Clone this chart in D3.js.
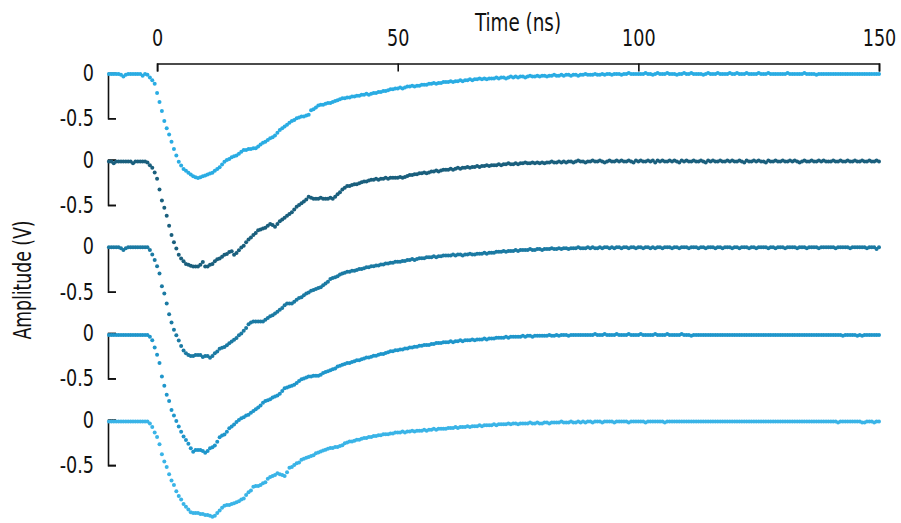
<!DOCTYPE html>
<html>
<head>
<meta charset="utf-8">
<script src="https://cdn.jsdelivr.net/npm/d3@7"></script>
<style>
  html, body { margin: 0; padding: 0; background: #ffffff; }
  svg { display: block; }
  text { font-family: "DejaVu Sans Condensed", "Liberation Sans Narrow", sans-serif; fill: #111; }
</style>
</head>
<body>
<svg id="chart" width="901" height="523"></svg>
<script>
// Sample grid: -10 ns to 150 ns every 0.5 ns (321 samples per trace)
const timeNs = d3.range(-10, 150.5, 0.5);

const xTicks = [0, 50, 100, 150];
const yTicks = [0, -0.5];

// Amplitude (V) of each trace, rows of 10 ns
const ch1 = [
  -0.01,-0.01,-0.01,-0.01,-0.01,-0.02,-0.04,-0.02,-0.01,-0.01,-0.01,-0.01,-0.01,-0.01,-0.03,-0.01,-0.02,-0.05,-0.08,-0.12,
  -0.22,-0.32,-0.42,-0.53,-0.61,-0.68,-0.76,-0.84,-0.91,-0.98,-1.02,-1.06,-1.08,-1.10,-1.12,-1.14,-1.15,-1.16,-1.15,-1.14,
  -1.13,-1.12,-1.11,-1.10,-1.08,-1.06,-1.04,-1.01,-0.98,-0.96,-0.95,-0.93,-0.92,-0.91,-0.89,-0.87,-0.85,-0.85,-0.84,-0.84,
  -0.83,-0.83,-0.81,-0.79,-0.77,-0.76,-0.74,-0.72,-0.71,-0.69,-0.66,-0.63,-0.61,-0.59,-0.57,-0.55,-0.53,-0.52,-0.50,-0.49,
  -0.48,-0.48,-0.47,-0.46,-0.41,-0.40,-0.38,-0.36,-0.35,-0.35,-0.34,-0.33,-0.33,-0.32,-0.31,-0.30,-0.29,-0.28,-0.28,-0.27,
  -0.27,-0.26,-0.26,-0.25,-0.25,-0.24,-0.24,-0.23,-0.24,-0.23,-0.22,-0.22,-0.21,-0.21,-0.20,-0.20,-0.19,-0.18,-0.18,-0.17,
  -0.17,-0.16,-0.17,-0.16,-0.15,-0.15,-0.14,-0.15,-0.14,-0.14,-0.13,-0.13,-0.13,-0.12,-0.12,-0.11,-0.12,-0.11,-0.11,-0.10,
  -0.10,-0.10,-0.09,-0.10,-0.09,-0.09,-0.08,-0.09,-0.08,-0.08,-0.07,-0.08,-0.07,-0.07,-0.06,-0.07,-0.06,-0.07,-0.06,-0.06,
  -0.06,-0.05,-0.06,-0.05,-0.05,-0.06,-0.05,-0.04,-0.05,-0.04,-0.05,-0.04,-0.04,-0.05,-0.04,-0.03,-0.04,-0.04,-0.03,-0.04,
  -0.03,-0.03,-0.04,-0.03,-0.03,-0.02,-0.03,-0.03,-0.02,-0.03,-0.02,-0.02,-0.03,-0.02,-0.02,-0.03,-0.02,-0.02,-0.01,-0.02,
  -0.02,-0.02,-0.01,-0.02,-0.02,-0.01,-0.02,-0.01,-0.01,-0.02,-0.01,-0.01,-0.01,-0.02,-0.01,-0.01,0.00,-0.01,-0.01,-0.01,
  -0.01,-0.01,-0.01,0.00,-0.01,-0.01,-0.02,-0.01,0.00,-0.01,-0.01,-0.01,0.00,-0.01,-0.01,-0.01,-0.02,-0.01,-0.01,0.00,
  -0.01,-0.01,0.00,-0.01,-0.01,-0.01,-0.01,-0.02,-0.01,0.00,-0.01,-0.01,-0.01,0.00,-0.01,-0.01,-0.01,-0.01,0.00,-0.01,
  -0.01,0.00,-0.01,-0.01,-0.01,0.00,-0.01,-0.01,-0.01,-0.01,0.00,-0.01,-0.01,-0.01,0.00,-0.01,-0.01,-0.01,-0.01,-0.01,
  -0.01,-0.01,0.00,-0.01,-0.01,-0.01,-0.01,-0.01,-0.01,0.00,-0.01,-0.01,-0.01,-0.01,-0.02,-0.01,-0.01,-0.01,-0.01,-0.01,
  -0.01,-0.01,-0.01,-0.01,-0.01,-0.01,-0.01,-0.01,-0.01,-0.01,-0.01,-0.01,-0.01,-0.01,-0.01,-0.01,-0.01,-0.01,-0.01,-0.01,
  -0.01
];

const ch2 = [
  -0.02,-0.02,-0.04,-0.02,-0.02,-0.02,-0.02,-0.02,-0.02,-0.02,-0.04,-0.02,-0.02,-0.02,-0.02,-0.02,-0.03,-0.06,-0.09,-0.14,
  -0.21,-0.33,-0.45,-0.53,-0.62,-0.73,-0.83,-0.91,-0.98,-1.05,-1.09,-1.12,-1.15,-1.16,-1.17,-1.18,-1.18,-1.18,-1.16,-1.13,
  -1.18,-1.18,-1.16,-1.15,-1.12,-1.10,-1.09,-1.07,-1.05,-1.04,-1.02,-1.01,-1.05,-1.03,-1.00,-0.97,-0.95,-0.91,-0.88,-0.86,
  -0.83,-0.81,-0.78,-0.77,-0.76,-0.75,-0.73,-0.71,-0.72,-0.74,-0.71,-0.68,-0.66,-0.64,-0.62,-0.60,-0.58,-0.55,-0.52,-0.50,
  -0.48,-0.46,-0.44,-0.41,-0.42,-0.43,-0.43,-0.43,-0.42,-0.43,-0.43,-0.43,-0.42,-0.43,-0.41,-0.38,-0.36,-0.33,-0.31,-0.29,
  -0.29,-0.28,-0.27,-0.27,-0.26,-0.25,-0.24,-0.24,-0.23,-0.22,-0.22,-0.21,-0.22,-0.21,-0.21,-0.20,-0.21,-0.20,-0.20,-0.20,
  -0.20,-0.19,-0.20,-0.19,-0.18,-0.17,-0.17,-0.16,-0.16,-0.15,-0.15,-0.14,-0.15,-0.14,-0.13,-0.13,-0.12,-0.13,-0.12,-0.11,
  -0.11,-0.11,-0.10,-0.11,-0.10,-0.09,-0.10,-0.09,-0.09,-0.08,-0.09,-0.08,-0.08,-0.07,-0.08,-0.07,-0.07,-0.06,-0.07,-0.06,
  -0.06,-0.06,-0.05,-0.06,-0.05,-0.05,-0.04,-0.05,-0.05,-0.04,-0.05,-0.04,-0.04,-0.03,-0.04,-0.04,-0.03,-0.04,-0.03,-0.04,
  -0.03,-0.04,-0.03,-0.03,-0.02,-0.03,-0.03,-0.02,-0.03,-0.02,-0.03,-0.02,-0.02,-0.03,-0.02,-0.01,-0.02,-0.02,-0.03,-0.02,
  -0.02,-0.01,-0.02,-0.02,-0.01,-0.02,-0.03,-0.02,-0.01,-0.02,-0.02,-0.01,-0.02,-0.01,-0.02,-0.02,-0.01,-0.02,-0.03,-0.01,
  -0.02,-0.01,-0.02,-0.02,-0.01,-0.02,-0.01,-0.03,-0.01,-0.02,-0.01,-0.02,-0.02,-0.01,-0.02,-0.01,-0.02,-0.03,-0.01,-0.02,
  -0.01,-0.02,-0.02,-0.01,-0.02,-0.02,-0.01,-0.02,-0.03,-0.01,-0.02,-0.01,-0.02,-0.02,-0.01,-0.02,-0.02,-0.01,-0.02,-0.01,
  -0.02,-0.02,-0.01,-0.02,-0.03,-0.01,-0.02,-0.02,-0.01,-0.02,-0.01,-0.02,-0.02,-0.03,-0.01,-0.02,-0.02,-0.01,-0.02,-0.02,
  -0.01,-0.02,-0.02,-0.01,-0.02,-0.01,-0.02,-0.03,-0.02,-0.01,-0.02,-0.02,-0.01,-0.02,-0.02,-0.01,-0.02,-0.01,-0.02,-0.02,
  -0.02,-0.01,-0.02,-0.02,-0.01,-0.02,-0.02,-0.01,-0.02,-0.02,-0.01,-0.02,-0.02,-0.01,-0.02,-0.02,-0.01,-0.02,-0.02,-0.01,
  -0.02
];

const ch3 = [
  -0.01,-0.01,-0.01,-0.01,-0.01,-0.02,-0.04,-0.02,-0.01,-0.01,-0.01,-0.01,-0.01,-0.01,-0.01,-0.01,-0.01,-0.04,-0.09,-0.15,
  -0.22,-0.30,-0.44,-0.52,-0.63,-0.75,-0.84,-0.92,-0.98,-1.04,-1.10,-1.15,-1.18,-1.20,-1.21,-1.21,-1.20,-1.20,-1.20,-1.22,
  -1.21,-1.21,-1.23,-1.21,-1.18,-1.16,-1.13,-1.12,-1.11,-1.09,-1.07,-1.05,-1.03,-1.01,-0.98,-0.96,-0.93,-0.90,-0.86,-0.84,
  -0.83,-0.83,-0.83,-0.83,-0.83,-0.81,-0.79,-0.77,-0.76,-0.74,-0.72,-0.70,-0.68,-0.65,-0.63,-0.63,-0.63,-0.61,-0.59,-0.57,
  -0.56,-0.54,-0.52,-0.51,-0.49,-0.48,-0.47,-0.46,-0.45,-0.43,-0.41,-0.39,-0.36,-0.35,-0.34,-0.33,-0.31,-0.30,-0.29,-0.28,
  -0.28,-0.27,-0.27,-0.26,-0.25,-0.25,-0.24,-0.23,-0.23,-0.22,-0.22,-0.21,-0.21,-0.20,-0.20,-0.19,-0.19,-0.18,-0.18,-0.17,
  -0.17,-0.17,-0.16,-0.16,-0.15,-0.15,-0.14,-0.15,-0.14,-0.13,-0.13,-0.13,-0.12,-0.12,-0.12,-0.11,-0.12,-0.11,-0.11,-0.10,
  -0.10,-0.10,-0.10,-0.09,-0.10,-0.09,-0.09,-0.10,-0.09,-0.09,-0.08,-0.09,-0.09,-0.08,-0.08,-0.08,-0.07,-0.08,-0.07,-0.07,
  -0.07,-0.06,-0.06,-0.06,-0.05,-0.06,-0.05,-0.05,-0.05,-0.04,-0.05,-0.04,-0.04,-0.04,-0.04,-0.03,-0.04,-0.04,-0.03,-0.03,
  -0.04,-0.03,-0.03,-0.03,-0.02,-0.03,-0.03,-0.02,-0.03,-0.02,-0.02,-0.03,-0.02,-0.02,-0.02,-0.01,-0.02,-0.02,-0.02,-0.01,
  -0.02,-0.01,-0.02,-0.02,-0.01,-0.02,-0.01,-0.01,-0.02,-0.01,-0.02,-0.01,-0.01,-0.02,-0.01,-0.01,-0.02,-0.01,-0.01,-0.02,
  -0.01,-0.01,-0.02,-0.01,-0.01,-0.02,-0.01,-0.02,-0.01,-0.01,-0.02,-0.01,-0.01,-0.01,-0.02,-0.01,-0.01,-0.02,-0.01,-0.01,
  -0.01,-0.02,-0.01,-0.01,-0.01,-0.02,-0.01,-0.01,-0.02,-0.01,-0.01,-0.01,-0.02,-0.01,-0.01,-0.02,-0.01,-0.01,-0.01,-0.02,
  -0.01,-0.01,-0.02,-0.01,-0.01,-0.01,-0.02,-0.01,-0.01,-0.02,-0.01,-0.01,-0.01,-0.01,-0.02,-0.01,-0.01,-0.02,-0.01,-0.01,
  -0.01,-0.02,-0.01,-0.01,-0.01,-0.01,-0.02,-0.01,-0.01,-0.01,-0.02,-0.01,-0.01,-0.01,-0.01,-0.02,-0.01,-0.01,-0.01,-0.01,
  -0.01,-0.01,-0.02,-0.01,-0.01,-0.01,-0.01,-0.01,-0.02,-0.01,-0.01,-0.01,-0.01,-0.01,-0.01,-0.02,-0.01,-0.01,-0.01,-0.03,
  -0.01
];

const ch4 = [
  -0.02,-0.02,-0.02,-0.02,-0.02,-0.02,-0.02,-0.02,-0.02,-0.02,-0.02,-0.02,-0.02,-0.02,-0.02,-0.02,-0.02,-0.04,-0.08,-0.16,
  -0.24,-0.33,-0.48,-0.58,-0.68,-0.75,-0.85,-0.91,-0.97,-1.03,-1.09,-1.14,-1.18,-1.22,-1.27,-1.31,-1.29,-1.29,-1.29,-1.30,
  -1.32,-1.30,-1.27,-1.26,-1.24,-1.20,-1.15,-1.13,-1.12,-1.09,-1.05,-1.03,-1.01,-0.98,-0.96,-0.94,-0.93,-0.91,-0.90,-0.88,
  -0.86,-0.84,-0.82,-0.80,-0.77,-0.75,-0.74,-0.73,-0.71,-0.70,-0.69,-0.67,-0.64,-0.61,-0.60,-0.59,-0.58,-0.57,-0.55,-0.53,
  -0.51,-0.50,-0.49,-0.48,-0.48,-0.47,-0.47,-0.47,-0.46,-0.44,-0.43,-0.42,-0.41,-0.40,-0.39,-0.37,-0.36,-0.35,-0.34,-0.33,
  -0.33,-0.32,-0.31,-0.30,-0.30,-0.29,-0.28,-0.27,-0.27,-0.26,-0.25,-0.25,-0.24,-0.23,-0.23,-0.22,-0.21,-0.20,-0.20,-0.19,
  -0.19,-0.18,-0.18,-0.17,-0.17,-0.16,-0.16,-0.15,-0.15,-0.14,-0.14,-0.13,-0.13,-0.13,-0.12,-0.12,-0.11,-0.11,-0.11,-0.10,
  -0.10,-0.10,-0.09,-0.10,-0.09,-0.09,-0.08,-0.09,-0.08,-0.08,-0.08,-0.07,-0.08,-0.07,-0.07,-0.07,-0.06,-0.07,-0.06,-0.06,
  -0.06,-0.05,-0.05,-0.05,-0.05,-0.04,-0.05,-0.04,-0.04,-0.04,-0.04,-0.04,-0.03,-0.04,-0.03,-0.03,-0.04,-0.03,-0.03,-0.03,
  -0.03,-0.03,-0.03,-0.02,-0.03,-0.03,-0.02,-0.03,-0.02,-0.02,-0.02,-0.03,-0.02,-0.02,-0.02,-0.02,-0.02,-0.02,-0.02,-0.02,
  -0.02,-0.02,-0.01,-0.02,-0.02,-0.02,-0.01,-0.02,-0.02,-0.02,-0.02,-0.01,-0.02,-0.02,-0.02,-0.02,-0.01,-0.02,-0.02,-0.02,
  -0.02,-0.01,-0.02,-0.02,-0.02,-0.02,-0.02,-0.01,-0.02,-0.02,-0.02,-0.02,-0.01,-0.02,-0.02,-0.02,-0.02,-0.02,-0.01,-0.02,
  -0.02,-0.02,-0.03,-0.02,-0.02,-0.02,-0.02,-0.02,-0.02,-0.02,-0.02,-0.02,-0.02,-0.02,-0.02,-0.02,-0.02,-0.02,-0.02,-0.02,
  -0.02,-0.02,-0.02,-0.02,-0.02,-0.02,-0.02,-0.02,-0.02,-0.02,-0.02,-0.02,-0.02,-0.02,-0.02,-0.02,-0.02,-0.02,-0.02,-0.02,
  -0.02,-0.02,-0.02,-0.02,-0.02,-0.02,-0.02,-0.02,-0.02,-0.02,-0.02,-0.02,-0.02,-0.02,-0.02,-0.02,-0.02,-0.02,-0.02,-0.02,
  -0.02,-0.02,-0.02,-0.02,-0.02,-0.03,-0.02,-0.02,-0.02,-0.02,-0.02,-0.03,-0.02,-0.03,-0.02,-0.02,-0.02,-0.02,-0.02,-0.02,
  -0.02
];

const ch5 = [
  -0.02,-0.02,-0.02,-0.02,-0.02,-0.02,-0.02,-0.02,-0.02,-0.02,-0.02,-0.02,-0.02,-0.02,-0.02,-0.02,-0.02,-0.04,-0.08,-0.14,
  -0.19,-0.27,-0.38,-0.46,-0.52,-0.60,-0.67,-0.72,-0.79,-0.84,-0.88,-0.93,-0.96,-0.99,-1.02,-1.03,-1.03,-1.03,-1.04,-1.04,
  -1.05,-1.05,-1.06,-1.07,-1.06,-1.03,-1.00,-0.97,-0.95,-0.94,-0.94,-0.93,-0.92,-0.91,-0.90,-0.88,-0.87,-0.83,-0.80,-0.78,
  -0.74,-0.73,-0.73,-0.72,-0.70,-0.69,-0.65,-0.63,-0.62,-0.61,-0.59,-0.60,-0.61,-0.62,-0.58,-0.53,-0.52,-0.50,-0.48,-0.47,
  -0.44,-0.43,-0.42,-0.41,-0.40,-0.39,-0.37,-0.36,-0.35,-0.34,-0.33,-0.32,-0.31,-0.31,-0.30,-0.30,-0.29,-0.28,-0.26,-0.25,
  -0.24,-0.24,-0.23,-0.22,-0.22,-0.21,-0.20,-0.20,-0.19,-0.19,-0.18,-0.18,-0.17,-0.17,-0.16,-0.16,-0.16,-0.15,-0.15,-0.14,
  -0.14,-0.14,-0.13,-0.14,-0.13,-0.13,-0.12,-0.13,-0.12,-0.12,-0.12,-0.11,-0.12,-0.11,-0.11,-0.10,-0.11,-0.10,-0.10,-0.10,
  -0.10,-0.09,-0.09,-0.09,-0.08,-0.09,-0.08,-0.08,-0.08,-0.07,-0.08,-0.07,-0.07,-0.07,-0.06,-0.07,-0.06,-0.06,-0.06,-0.06,
  -0.05,-0.06,-0.05,-0.05,-0.05,-0.05,-0.04,-0.05,-0.04,-0.04,-0.05,-0.04,-0.04,-0.04,-0.04,-0.03,-0.04,-0.04,-0.03,-0.04,
  -0.04,-0.03,-0.03,-0.04,-0.03,-0.03,-0.03,-0.03,-0.02,-0.03,-0.03,-0.03,-0.02,-0.03,-0.03,-0.02,-0.03,-0.02,-0.03,-0.02,
  -0.02,-0.03,-0.02,-0.02,-0.02,-0.03,-0.02,-0.02,-0.02,-0.02,-0.03,-0.02,-0.02,-0.02,-0.02,-0.02,-0.03,-0.02,-0.02,-0.02,
  -0.02,-0.02,-0.02,-0.03,-0.02,-0.02,-0.02,-0.02,-0.02,-0.02,-0.02,-0.03,-0.02,-0.02,-0.02,-0.02,-0.02,-0.02,-0.02,-0.02,
  -0.02,-0.02,-0.02,-0.02,-0.02,-0.02,-0.02,-0.02,-0.02,-0.02,-0.02,-0.02,-0.02,-0.02,-0.02,-0.02,-0.02,-0.02,-0.02,-0.02,
  -0.02,-0.02,-0.02,-0.02,-0.02,-0.02,-0.02,-0.02,-0.02,-0.02,-0.02,-0.02,-0.02,-0.02,-0.02,-0.02,-0.02,-0.02,-0.02,-0.02,
  -0.02,-0.02,-0.02,-0.02,-0.02,-0.02,-0.02,-0.02,-0.02,-0.02,-0.02,-0.02,-0.02,-0.02,-0.02,-0.02,-0.02,-0.02,-0.02,-0.02,
  -0.02,-0.02,-0.02,-0.03,-0.02,-0.02,-0.02,-0.02,-0.02,-0.02,-0.02,-0.02,-0.02,-0.03,-0.03,-0.02,-0.02,-0.02,-0.03,-0.02,
  -0.02
];

const traceNames = ["ch1", "ch2", "ch3", "ch4", "ch5"];
const traceValues = [ch1, ch2, ch3, ch4, ch5];
const traceColors = ["#2aace3", "#1a5f7d", "#1b7aa3", "#1f96cb", "#3ab4e7"];

traceValues.forEach((vals, i) => {
  if (vals.length !== timeNs.length) {
    throw new Error(traceNames[i] + " has " + vals.length + " samples, expected " + timeNs.length);
  }
});

// Horizontal squeeze that gives the labels a condensed look
const squeeze = 0.85;

const svg = d3.select("#chart");

// Shared time scale; the traces start 10 ns before the trigger
const x = d3.scaleLinear().domain([-10.2, 150]).range([108, 879]);

// Vertical offset of each trace's 0 V level
const offset = d3.scalePoint().domain(traceNames).range([73, 419.8]);
const pxPerHalfVolt = 45.3;

// Top time axis, drawn only over 0..150 ns
const xAxisScale = d3.scaleLinear().domain([0, 150]).range([x(0), x(150)]);
const xAxis = d3.axisTop(xAxisScale)
  .tickValues(xTicks)
  .tickFormat(d3.format("d"))
  .tickSizeInner(-8)
  .tickSizeOuter(-8)
  .tickPadding(18);

const gx = svg.append("g")
  .attr("transform", "translate(0,63.5)")
  .call(xAxis);
gx.select(".domain").attr("stroke", "#111").attr("stroke-width", 1.6);
gx.selectAll(".tick line").attr("stroke", "#111").attr("stroke-width", 1.6);
gx.selectAll(".tick text")
  .attr("font-size", 23)
  .attr("font-family", null)
  .attr("fill", "#111")
  .attr("transform", `scale(${squeeze},1)`);

svg.append("text")
  .attr("transform", `translate(518,31) scale(${squeeze},1)`)
  .attr("text-anchor", "middle")
  .attr("font-size", 24)
  .text("Time (ns)");

svg.append("text")
  .attr("transform", `translate(31,280) rotate(-90) scale(0.8,1)`)
  .attr("text-anchor", "middle")
  .attr("font-size", 24)
  .text("Amplitude (V)");

const fmtY = v => (v === 0 ? "0" : String(v));
const yPad = 14;

traceNames.forEach((name, i) => {
  const zero = offset(name);
  const y = d3.scaleLinear().domain([-0.5, 0]).range([zero + pxPerHalfVolt, zero]);

  const yAxis = d3.axisLeft(y)
    .tickValues(yTicks)
    .tickFormat(fmtY)
    .tickSizeInner(-8)
    .tickSizeOuter(-8)
    .tickPadding(yPad);

  const gy = svg.append("g")
    .attr("transform", `translate(${x(-10.2)},0)`)
    .call(yAxis);
  gy.select(".domain").attr("stroke", "#111").attr("stroke-width", 1.6);
  gy.selectAll(".tick line").attr("stroke", "#111").attr("stroke-width", 1.6);
  gy.selectAll(".tick text")
    .attr("font-size", 23)
    .attr("font-family", null)
    .attr("fill", "#111")
    .attr("x", -yPad / squeeze)
    .attr("transform", `scale(${squeeze},1)`);

  const pts = traceValues[i].map((v, k) => ({ t: timeNs[k], v }));
  svg.append("g")
    .attr("fill", traceColors[i])
    .selectAll("circle")
    .data(pts)
    .join("circle")
    .attr("cx", d => x(d.t))
    .attr("cy", d => y(d.v))
    .attr("r", 2);
});
</script>
</body>
</html>
